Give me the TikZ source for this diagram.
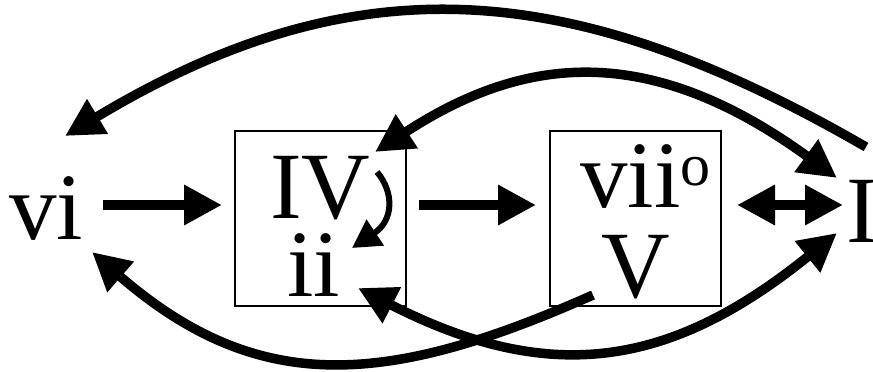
\documentclass[tikz,border=0pt]{standalone}
\usepackage{fontspec}
\setmainfont{Liberation Serif}
\usetikzlibrary{arrows.meta}
\begin{document}
\begin{tikzpicture}[x=1pt,y=-1pt,
  lbl/.style={inner sep=0pt, anchor=base west, font=\fontsize{95}{100}\selectfont},
  chordbox/.style={draw, line width=1.5pt, inner sep=0pt, minimum width=171pt, minimum height=175pt},
  bighead/.tip={Triangle[length=38pt,width=38pt]},
  conn/.style={line width=9.5pt, -bighead},
  dconn/.style={line width=9.5pt, bighead-bighead},
  smallconn/.style={line width=6pt, -{Triangle[length=28pt,width=30pt]}}]
\useasboundingbox (0,0) rectangle (873,372);
% boxes
\node[chordbox] (box1) at (320.5,218.5) {};
\node[chordbox] (box2) at (635.5,218.5) {};
% labels
\node[lbl] (vi) at (9,239) {vi};
\node[lbl] (IV) at (270,218) {IV};
\node[lbl] (ii) at (287,296) {ii};
\node[lbl] (vii) at (580,207) {vii\raisebox{22pt}{\fontsize{60}{60}\selectfont o}};
\node[lbl] (V) at (601,297) {V};
\node[lbl] (I) at (846,242) {I};
% connector end points
\coordinate (viA) at (103,205);
\coordinate (boxOneIn) at (222,205);
\coordinate (boxOneOut) at (419,205);
\coordinate (boxTwoIn) at (536,205);
\coordinate (boxTwoOut) at (737,205);
\coordinate (IIn) at (843,205);
\coordinate (Itop) at (866,147);
\coordinate (viTop) at (65,136);
\coordinate (IVtr) at (375,152);
\coordinate (Iul) at (837,178);
\coordinate (iiR) at (358,288);
\coordinate (Ill) at (837,233);
\coordinate (Vbl) at (593,295);
\coordinate (viBot) at (92,252);
\coordinate (IVr) at (377,172);
\coordinate (iiTop) at (352,248);
% straight connectors
\draw[conn] (viA) -- (boxOneIn);
\draw[conn] (boxOneOut) -- (boxTwoIn);
\draw[dconn] (boxTwoOut) -- (IIn);
% curved connectors
\draw[conn] (Itop) .. controls (572,-23) and (356,-39) .. (viTop);
\draw[dconn] (IVtr) .. controls (518,59) and (643,37) .. (Iul);
\draw[dconn] (iiR) .. controls (550,386) and (670,368) .. (Ill);
\draw[conn] (Vbl) .. controls (390,385) and (260,398) .. (viBot);
\draw[smallconn] (IVr) .. controls (394,192) and (394,220) .. (iiTop);
\end{tikzpicture}
\end{document}
